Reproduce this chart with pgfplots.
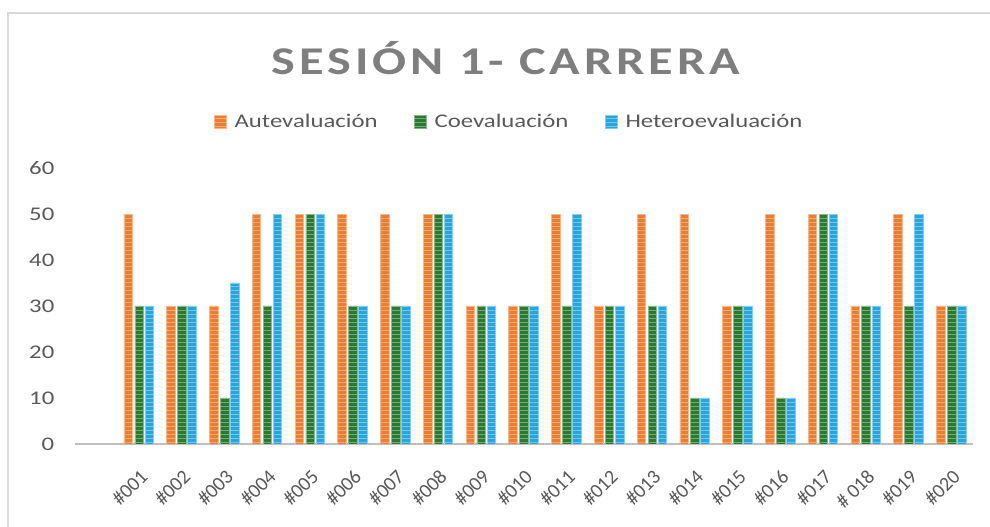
\documentclass[border=0pt]{standalone}
\usepackage{pgfplots}
\pgfplotsset{compat=1.18}
\usepackage{pgfplotstable}
\usetikzlibrary{patterns}
\usepackage{fontspec}
\setmainfont{Carlito}[FakeStretch=1.28]
\newfontfamily\titlefont{Carlito}[FakeStretch=1.28, LetterSpace=10]
\newfontfamily\plainfont{Carlito}
\definecolor{cA}{HTML}{ED7D31}
\definecolor{cC}{HTML}{2A7A30}
\definecolor{cH}{HTML}{29A5DE}
\definecolor{txt}{HTML}{595959}
\definecolor{ttl}{HTML}{7F7F7F}
\definecolor{frame}{HTML}{D9D9D9}
\definecolor{axln}{HTML}{BFBFBF}

\pgfplotstableread{
x A C H
1 50 30 30
2 30 30 30
3 30 10 35
4 50 30 50
5 50 50 50
6 50 30 30
7 50 30 30
8 50 50 50
9 30 30 30
10 30 30 30
11 50 30 50
12 30 30 30
13 50 30 30
14 50 10 10
15 30 30 30
16 50 10 10
17 50 50 50
18 30 30 30
19 50 30 50
20 30 30 30
}\data

\pgfplotsset{
  barbase/.style={fill=#1, draw=#1!55!white, line width=0.5pt,
    postaction={pattern=horizontal lines, pattern color=#1!65!white}},
}

\begin{document}
\begin{tikzpicture}
\path[use as bounding box] (0pt,0pt) rectangle (742.5pt,395.25pt);
\draw[frame, line width=1.5pt] (6pt,-2pt) -- (6pt,385.5pt) -- (745pt,385.5pt);
\node[anchor=base, text=ttl, font=\titlefont\bfseries\fontsize{29.5}{34}\selectfont] at (379.5pt,339pt) {SESIÓN 1- CARRERA};
\begin{axis}[
  at={(56.25pt,62.25pt)}, anchor=south west,
  scale only axis, width=673.5pt, height=207pt,
  xmin=-0.5, xmax=20.5, ymin=0, ymax=60,
  ytick={0,10,...,60},
  xtick={1,...,20},
  xticklabels={\#001,\#002,\#003,\#004,\#005,\#006,\#007,\#008,\#009,\#010,\#011,\#012,\#013,\#014,\#015,\#016,\#017,\# 018,\#019,\#020},
  axis x line=bottom, axis y line=left,
  x axis line style={-, line width=2pt, axln},
  y axis line style={draw=none},
  major tick length=0pt,
  tick label style={text=txt, font=\fontsize{14.5}{17}\selectfont},
  /pgf/number format/assume math mode=true,
  yticklabel style={anchor=east, xshift=-12pt},
  xticklabel style={font=\plainfont\fontsize{15}{17}\selectfont, xshift=0pt, yshift=-18pt, rotate=45, anchor=north east, inner sep=0pt},
  ybar, bar width=0.2,
  legend columns=3,
  legend style={at={(0.484,1.167)}, anchor=center, draw=none, fill=none,
    font=\fontsize{14.5}{17}\selectfont, text=txt,
    /tikz/every odd column/.append style={column sep=3.8pt},
    /tikz/every even column/.append style={column sep=25.5pt}},
  legend image code/.code={\path[#1] (0pt,-4.8pt) rectangle (9pt,4.8pt);},
]
\addplot[barbase=cA, bar shift=-0.255] table[x=x,y=A] {\data};
\addplot[barbase=cC, bar shift=0] table[x=x,y=C] {\data};
\addplot[barbase=cH, bar shift=0.235] table[x=x,y=H] {\data};
\legend{Autevaluación,Coevaluación,Heteroevaluación}
\end{axis}
\end{tikzpicture}
\end{document}
